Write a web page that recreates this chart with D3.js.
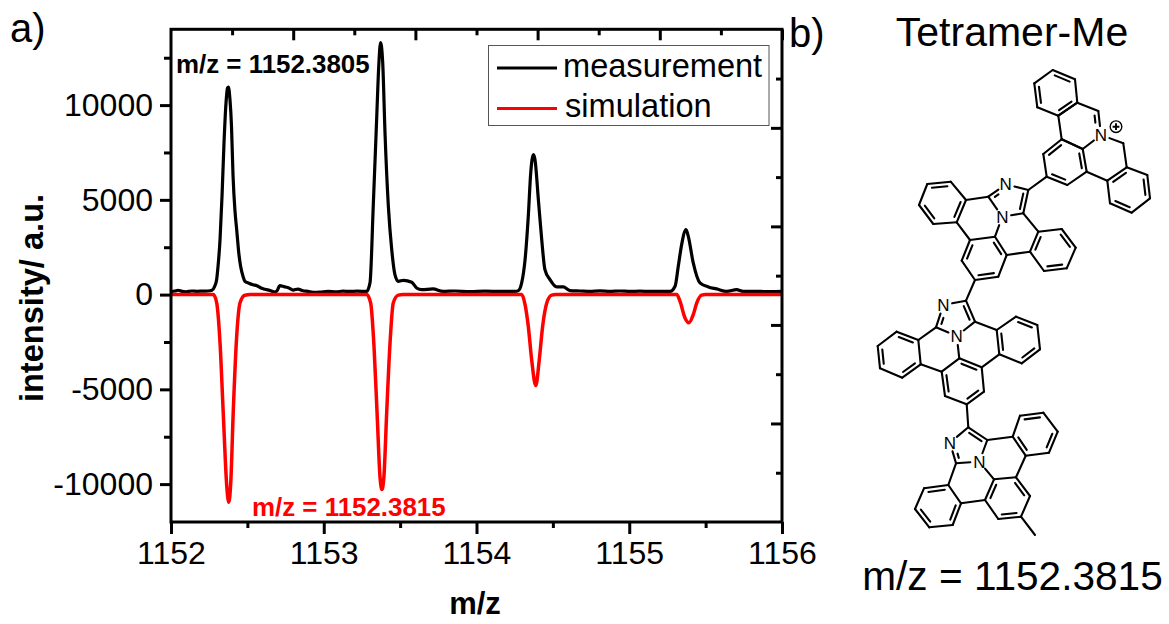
<!DOCTYPE html>
<html>
<head>
<meta charset="utf-8">
<script src="https://cdn.jsdelivr.net/npm/d3@7.9.0/dist/d3.min.js"></script>
<style>
  html, body { margin: 0; padding: 0; background: #fff; }
  text { font-family: "Liberation Sans", Arial, sans-serif; fill: #000; }
</style>
</head>
<body>
<svg id="chart" width="1169" height="624"></svg>
<script>
const measMz = [
  1152.000, 1152.026, 1152.046, 1152.072, 1152.098, 1152.137, 1152.170, 1152.209, 1152.242, 1152.268,
  1152.285, 1152.299, 1152.308, 1152.321, 1152.334, 1152.347, 1152.360, 1152.370, 1152.376, 1152.386,
  1152.396, 1152.406, 1152.419, 1152.430, 1152.445, 1152.456, 1152.472, 1152.484, 1152.510, 1152.537,
  1152.563, 1152.589, 1152.615, 1152.648, 1152.681, 1152.694, 1152.713, 1152.740, 1152.772, 1152.799,
  1152.831, 1152.864, 1152.897, 1152.930, 1152.975, 1153.028, 1153.080, 1153.126, 1153.172, 1153.218,
  1153.281, 1153.303, 1153.324, 1153.347, 1153.360, 1153.372, 1153.386, 1153.401, 1153.423, 1153.445,
  1153.466, 1153.488, 1153.521, 1153.576, 1153.608, 1153.641, 1153.715, 1153.781, 1153.859, 1153.957,
  1154.056, 1154.154, 1154.252, 1154.274, 1154.296, 1154.318, 1154.339, 1154.355, 1154.373, 1154.383,
  1154.405, 1154.427, 1154.448, 1154.481, 1154.525, 1154.568, 1154.612, 1154.678, 1154.743, 1154.808,
  1154.874, 1154.939, 1155.005, 1155.070, 1155.136, 1155.201, 1155.267, 1155.300, 1155.321, 1155.343,
  1155.372, 1155.387, 1155.419, 1155.463, 1155.518, 1155.572, 1155.638, 1155.703, 1155.745, 1155.823,
  1155.921, 1156.000
];
const measIntensity = [
  160, 190, 230, 170, 150, 190, 175, 185, 190, 230,
  420, 800, 1500, 2900, 5200, 8000, 10100, 10900, 10950, 10300,
  8900, 6300, 4400, 3430, 2100, 1480, 950, 700, 600, 520,
  470, 350, 280, 220, 130, 200, 475, 420, 350, 240,
  290, 200, 170, 120, 130, 170, 150, 180, 170, 180,
  170, 630, 4660, 9400, 12050, 13300, 12240, 8540, 4660, 2375,
  1055, 700, 755, 650, 350, 260, 300, 170, 190, 160,
  180, 170, 170, 210, 630, 1850, 4130, 6430, 7390, 7120,
  5010, 2900, 1320, 790, 405, 405, 210, 190, 170, 200,
  170, 190, 170, 180, 170, 170, 170, 440, 1490, 2640,
  3430, 3060, 1670, 617, 405, 300, 170, 260, 175, 170,
  160, 170
];

// simulated spectrum (plotted downwards)
const simMz = [
  1152.000, 1152.277, 1152.299, 1152.321, 1152.342, 1152.365, 1152.378, 1152.391, 1152.408, 1152.430, 1152.452, 1152.484, 1152.520,
  1153.250, 1153.281, 1153.307, 1153.329, 1153.351, 1153.368, 1153.381, 1153.394, 1153.412, 1153.434, 1153.455, 1153.488, 1153.520,
  1154.270, 1154.296, 1154.318, 1154.339, 1154.361, 1154.388, 1154.411, 1154.433, 1154.460, 1154.492, 1154.520,
  1155.290, 1155.311, 1155.332, 1155.365, 1155.391, 1155.419, 1155.442, 1155.474, 1155.500, 1156.000
];
const simIntensity = [
  0, 0, -430, -2550, -6240, -10100, -10960, -9950, -6070, -2200, -430, -30, 0,
  0, 0, -440, -2730, -6600, -9590, -10290, -9590, -6240, -2550, -440, -30, 0,
  0, 0, -530, -1670, -3430, -4800, -3430, -1670, -440, -30, 0,
  0, 0, -350, -1230, -1480, -1055, -440, -30, 0, 0
];

const xMajor = [1152, 1153, 1154, 1155, 1156];
const xMinor = [1152.5, 1153.5, 1154.5, 1155.5];
const yMajor = [-10000, -5000, 0, 5000, 10000];
const yMinor = [-7500, -2500, 2500, 7500, 12500];
const topMajor = [1152.8, 1153.6, 1154.4, 1155.2, 1156];
const topMinor = [1152.4, 1153.2, 1154, 1154.8, 1155.6];
const rightMajor = [-6800, -1600, 3600, 8800];
const rightMinor = [-9400, -4200, 1000, 6200, 11400];

// molecule drawing, atoms
const molAtoms = {
  // acridinium end
  a0: [1052.7, 70], a1: [1075, 79.3], a2: [1077.3, 102.7], a3: [1058.3, 115.7], a4: [1037.3, 107.3], a5: [1034.3, 83.3],
  aCH: [1098.3, 111], aN: [1101, 135], aCH2: [1123.3, 143.3],
  ac0: [1061.7, 139.3], ac1: [1082.7, 149], ac2: [1086.7, 171.7], ac3: [1067.3, 185], ac4: [1046.7, 176.7], ac5: [1043.3, 154],
  al0: [1126.7, 167.3], al1: [1147.3, 175], al2: [1150, 198.3], al3: [1131.7, 212.7], al4: [1110, 203.3], al5: [1107.3, 180.7],
  // first imidazo unit
  bC1: [1028.3, 190], bN1: [1005.7, 184.3], bC2: [988.3, 196.7], bN2: [1002.3, 216.7], bC3: [1023.3, 213.3],
  bl0: [966, 200], bl1: [950.7, 181.7], bl2: [927.3, 184], bl3: [919, 205], bl4: [933.3, 224], bl5: [956.7, 222.3],
  bc0: [995, 236.7], bc1: [970, 240], bc2: [961.7, 260.7], bc3: [975, 280], bc4: [998.3, 276.7], bc5: [1006.7, 255],
  br0: [1038.3, 231.7], br1: [1061.7, 229], br2: [1075.7, 247.7], br3: [1066.7, 268.3], br4: [1044, 271], br5: [1030, 251.7],
  // second imidazo unit
  cC1: [966, 300.7], cN1: [943.3, 305], cC2: [936, 327.3], cN2: [956.7, 336], cC3: [975, 321.7],
  cl0: [918.3, 340], cl1: [896.7, 331.7], cl2: [877.7, 346], cl3: [880, 368.3], cl4: [902.3, 377.7], cl5: [920.7, 364.3],
  cc0: [959.3, 358.3], cc1: [941.7, 371.7], cc2: [945, 396], cc3: [966.7, 404.3], cc4: [984, 391.7], cc5: [981.7, 367.3],
  cr0: [996.7, 330], cr1: [1016, 316.7], cr2: [1037.3, 325], cr3: [1040, 349.3], cr4: [1021.7, 363.3], cr5: [999.3, 354.3],
  // methyl end
  dC1: [968.3, 427.3], dN1: [950, 442.7], dC2: [956, 463.3], dN2: [979.3, 461.7], dC3: [987.3, 440],
  dr0: [1012.7, 436.7], dr1: [1020, 415.7], dr2: [1043.3, 412.7], dr3: [1057.7, 431.7], dr4: [1049, 452.7], dr5: [1025.7, 455.7],
  dc0: [994, 479.3], dc1: [1016, 477.3], dc2: [1030, 496], dc3: [1021, 516.7], dc4: [998.3, 519], dc5: [985, 500],
  dl0: [948.3, 485], dl1: [924, 488.3], dl2: [915, 509], dl3: [929.3, 527.3], dl4: [952.7, 525], dl5: [961, 503.3],
  dMe: [1035, 535]
};
// ring atoms and which of its edges carry the inner double bond line
const molRings = [
  [["a0", "a1", "a2", "a3", "a4", "a5"], [0, 2, 4]],
  [["a2", "aCH", "aN", "ac1", "ac0", "a3"], [1]],
  [["ac0", "ac1", "ac2", "ac3", "ac4", "ac5"], [1, 3, 5]],
  [["al0", "al1", "al2", "al3", "al4", "al5"], [1, 3, 5]],
  [["bC1", "bN1", "bC2", "bN2", "bC3"], [1, 4]],
  [["bl0", "bl1", "bl2", "bl3", "bl4", "bl5"], [1, 3, 5]],
  [["bc0", "bc1", "bc2", "bc3", "bc4", "bc5"], [1, 3, 5]],
  [["br0", "br1", "br2", "br3", "br4", "br5"], [1, 3, 5]],
  [["cC1", "cN1", "cC2", "cN2", "cC3"], [1, 4]],
  [["cl0", "cl1", "cl2", "cl3", "cl4", "cl5"], [0, 2, 4]],
  [["cc0", "cc1", "cc2", "cc3", "cc4", "cc5"], [1, 3, 5]],
  [["cr0", "cr1", "cr2", "cr3", "cr4", "cr5"], [1, 3, 5]],
  [["dC1", "dN1", "dC2", "dN2", "dC3"], [1, 4]],
  [["dr0", "dr1", "dr2", "dr3", "dr4", "dr5"], [1, 3, 5]],
  [["dc0", "dc1", "dc2", "dc3", "dc4", "dc5"], [1, 3, 5]],
  [["dl0", "dl1", "dl2", "dl3", "dl4", "dl5"], [0, 2, 4]]
];
const molLinks = [
  ["aN", "aCH2"], ["aCH2", "al0"], ["ac2", "al5"], ["ac4", "bC1"],
  ["bC3", "br0"], ["br5", "bc5"], ["bl5", "bc1"], ["bC2", "bl0"], ["bN2", "bc0"], ["bc3", "cC1"],
  ["cC3", "cr0"], ["cr5", "cc5"], ["cl5", "cc1"], ["cC2", "cl0"], ["cN2", "cc0"], ["cc3", "dC1"],
  ["dC3", "dr0"], ["dr5", "dc1"], ["dl5", "dc5"], ["dC2", "dl0"], ["dN2", "dc0"], ["dc3", "dMe"]
];
const molLabels = ["aN", "bN1", "bN2", "cN1", "cN2", "dN1", "dN2"];

const svg = d3.select("#chart");

const x = d3.scaleLinear().domain([1152, 1156]).range([171, 782]);
const y = d3.scaleLinear().domain([-12000, 14000]).range([522, 29.3]);

const line = d3.line().curve(d3.curveMonotoneX);

const measPts = measMz.map((m, i) => [x(m), y(measIntensity[i])]);
const simPts = simMz.map((m, i) => [x(m), y(simIntensity[i])]);

svg.append("path").attr("d", line(measPts))
  .attr("fill", "none").attr("stroke", "#000").attr("stroke-width", 3.2).attr("stroke-linejoin", "round");
svg.append("path").attr("d", line(simPts))
  .attr("fill", "none").attr("stroke", "#f00").attr("stroke-width", 3.5).attr("stroke-linejoin", "round");

// axes: origin style, each side has its own ticks
function styleAxis(g) {
  g.selectAll("line").attr("stroke", "#000").attr("stroke-width", 3);
  g.selectAll("path").remove();
  g.selectAll("text").style("font-size", "32px").attr("fill", "#000");
}
function addAxis(axis, tx, ty) {
  const g = svg.append("g").attr("transform", `translate(${tx},${ty})`).call(axis);
  g.call(styleAxis);
  return g;
}
const noLabel = () => "";

addAxis(d3.axisBottom(x).tickValues(xMinor).tickSize(6).tickFormat(noLabel), 0, 522);
const xAxisG = addAxis(d3.axisBottom(x).tickValues(xMajor).tickSize(12).tickFormat(d3.format("d")), 0, 522);
xAxisG.selectAll("text").attr("y", 19);

addAxis(d3.axisLeft(y).tickValues(yMinor).tickSize(7).tickFormat(noLabel), 171, 0);
const yAxisG = addAxis(d3.axisLeft(y).tickValues(yMajor).tickSize(11).tickFormat(d => String(d)), 171, 0);
yAxisG.selectAll("text").attr("x", -18);

addAxis(d3.axisBottom(x).tickValues(topMinor).tickSize(6).tickFormat(noLabel), 0, 29.3);
addAxis(d3.axisBottom(x).tickValues(topMajor).tickSize(11).tickFormat(noLabel), 0, 29.3);
addAxis(d3.axisLeft(y).tickValues(rightMinor).tickSize(6).tickFormat(noLabel), 782, 0);
addAxis(d3.axisLeft(y).tickValues(rightMajor).tickSize(11).tickFormat(noLabel), 782, 0);

svg.append("rect")
  .attr("x", 171).attr("y", 29.3).attr("width", 611).attr("height", 492.7)
  .attr("fill", "none").attr("stroke", "#000").attr("stroke-width", 3);

// axis titles
svg.append("text").attr("x", 475).attr("y", 614).attr("text-anchor", "middle")
  .style("font-size", "31px").style("font-weight", "bold").text("m/z");
svg.append("text").attr("transform", "translate(43,298) rotate(-90)").attr("text-anchor", "middle")
  .style("font-size", "32.6px").style("font-weight", "bold").text("intensity/ a.u.");

// peak annotations
svg.append("text").attr("x", 176).attr("y", 73)
  .style("font-size", "25.9px").style("font-weight", "bold").text("m/z = 1152.3805");
svg.append("text").attr("x", 252).attr("y", 516)
  .style("font-size", "25.9px").style("font-weight", "bold").style("fill", "#f00").text("m/z = 1152.3815");

// legend
svg.append("rect").attr("x", 488.5).attr("y", 45.5).attr("width", 280.5).attr("height", 80)
  .attr("fill", "#fff").attr("stroke", "#555").attr("stroke-width", 1);
[["measurement", "#000", 68, 77, 563], ["simulation", "#f00", 108.5, 117, 565]].forEach(([label, color, ly, ty, tx]) => {
  svg.append("line").attr("x1", 497).attr("x2", 557).attr("y1", ly).attr("y2", ly)
    .attr("stroke", color).attr("stroke-width", 3);
  svg.append("text").attr("x", tx).attr("y", ty).style("font-size", "32.6px").text(label);
});

// panel letters and the right side captions
svg.append("text").attr("x", 10).attr("y", 42).style("font-size", "40px").text("a)");
svg.append("text").attr("x", 789).attr("y", 47).style("font-size", "40px").text("b)");
svg.append("text").attr("x", 1012).attr("y", 46).attr("text-anchor", "middle")
  .style("font-size", "41px").text("Tetramer-Me");
svg.append("text").attr("x", 1012.5).attr("y", 590).attr("text-anchor", "middle")
  .style("font-size", "40.6px").text("m/z = 1152.3815");

// ----- molecule -----
const mol = svg.append("g").attr("stroke", "#000").attr("stroke-width", 2.1).attr("stroke-linecap", "round");

function trimmed(p, q, cutP, cutQ) {
  const dx = q[0] - p[0], dy = q[1] - p[1], len = Math.hypot(dx, dy);
  return [
    [p[0] + dx / len * cutP, p[1] + dy / len * cutP],
    [q[0] - dx / len * cutQ, q[1] - dy / len * cutQ]
  ];
}
function bond(a, b, extra, shift) {
  const cutA = (molLabels.includes(a) ? 9 : 0) + extra;
  const cutB = (molLabels.includes(b) ? 9 : 0) + extra;
  const [p, q] = trimmed(molAtoms[a], molAtoms[b], cutA, cutB);
  mol.append("line")
    .attr("x1", p[0] + shift[0]).attr("y1", p[1] + shift[1])
    .attr("x2", q[0] + shift[0]).attr("y2", q[1] + shift[1]);
}

molRings.forEach(([atoms, doubles]) => {
  const cx = d3.mean(atoms, a => molAtoms[a][0]);
  const cy = d3.mean(atoms, a => molAtoms[a][1]);
  atoms.forEach((a, i) => {
    const b = atoms[(i + 1) % atoms.length];
    bond(a, b, 0, [0, 0]);
    if (doubles.includes(i)) {
      const pa = molAtoms[a], pb = molAtoms[b];
      const mx = (pa[0] + pb[0]) / 2, my = (pa[1] + pb[1]) / 2;
      const dist = Math.hypot(cx - mx, cy - my);
      bond(a, b, 4, [(cx - mx) / dist * 4.2, (cy - my) / dist * 4.2]);
    }
  });
});
molLinks.forEach(([a, b]) => bond(a, b, 0, [0, 0]));

molLabels.forEach(a => {
  svg.append("text").attr("x", molAtoms[a][0]).attr("y", molAtoms[a][1] + 6)
    .attr("text-anchor", "middle").style("font-size", "17px").text("N");
});

// positive charge on the acridinium N
const charge = svg.append("g").attr("transform", "translate(1116,126.7)")
  .attr("fill", "none").attr("stroke", "#000").attr("stroke-width", 1.4);
charge.append("circle").attr("r", 5.8);
charge.append("path").attr("d", "M-3.4,0H3.4M0,-3.4V3.4").attr("stroke-width", 1.9);
</script>
</body>
</html>
